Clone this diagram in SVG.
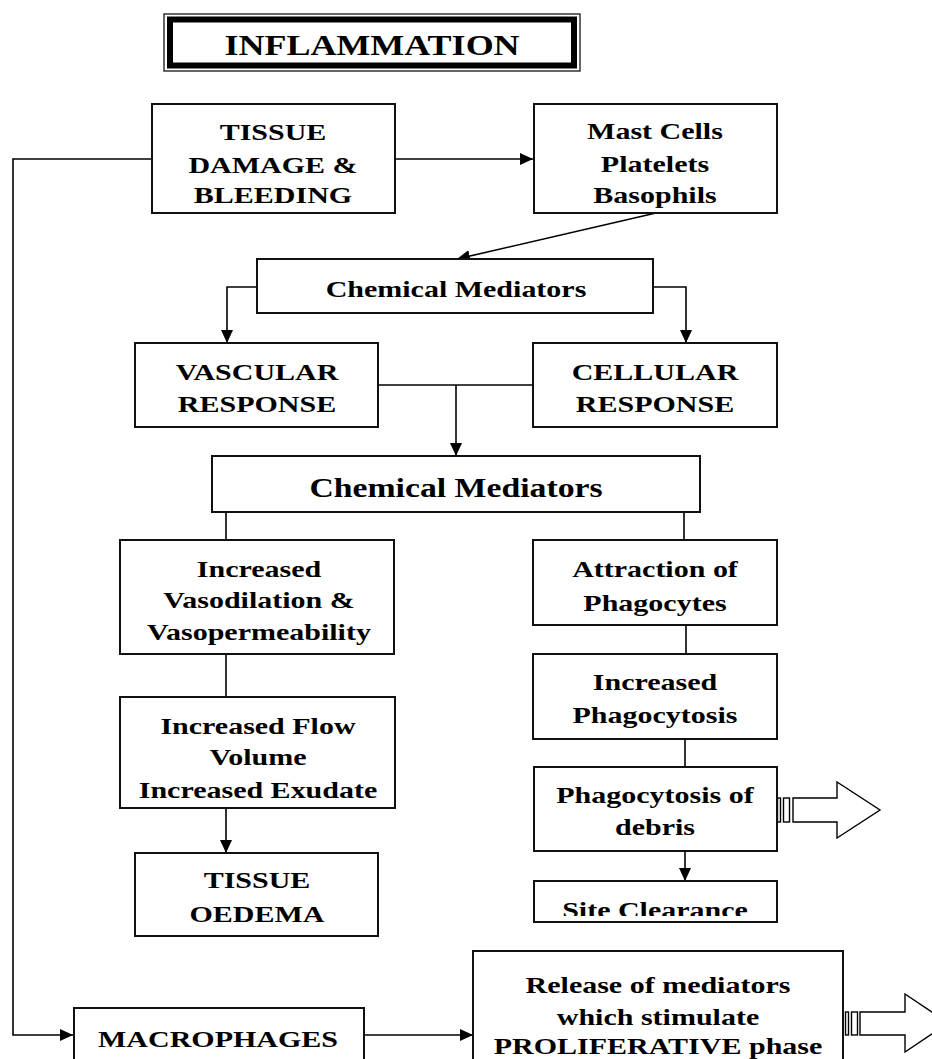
<svg xmlns="http://www.w3.org/2000/svg" width="932" height="1059" viewBox="0 0 932 1059">
<style>
.box{fill:#fff;stroke:#111;stroke-width:2}
.t{font-family:"Liberation Serif","Times New Roman",serif;font-weight:bold;font-size:24px;text-anchor:middle;fill:#000}
.big{font-size:27px}
.ttl{font-size:30px}
.ln{fill:none;stroke:#000;stroke-width:1.6}
.arw{marker-end:url(#ah)}
.blk{fill:#fff;stroke:#000;stroke-width:1.4}
</style>
<defs>
<marker id="ah" markerUnits="userSpaceOnUse" markerWidth="13" markerHeight="12" viewBox="0 0 13 12" refX="13" refY="6" orient="auto">
<path d="M0,0 L13,6 L0,12 z" fill="#000"/>
</marker>
<clipPath id="siteclip"><rect x="535" y="882" width="241" height="34"/></clipPath>
</defs>
<rect width="932" height="1059" fill="#fff"/>

<g id="connectors">
<path class="ln arw" d="M395,159 H533"/>
<path class="ln arw" d="M152,159 H13 V1035 H73"/>
<path class="ln arw" d="M656,213 L457,259"/>
<path class="ln arw" d="M257,287 H227 V343"/>
<path class="ln arw" d="M653,287 H686 V343"/>
<path class="ln" d="M378,385 H533"/>
<path class="ln arw" d="M456,385 V456"/>
<path class="ln" d="M226,512 V540"/>
<path class="ln" d="M684,512 V540"/>
<path class="ln" d="M226,654 V697"/>
<path class="ln arw" d="M226,808 V853"/>
<path class="ln" d="M686,625 V654"/>
<path class="ln" d="M685,739 V767"/>
<path class="ln arw" d="M685,851 V881"/>
<path class="ln arw" d="M364,1035 H473"/>
<g id="striped-arrow-1">
<rect class="blk" x="777.5" y="798" width="3" height="24" fill="#000"/>
<rect class="blk" x="783.5" y="798" width="6" height="24"/>
<polygon class="blk" points="793,798 837,798 837,782 880,810 837,838 837,822 793,822"/>
</g>
<g id="striped-arrow-2">
<rect class="blk" x="845.5" y="1012" width="3" height="23" fill="#000"/>
<rect class="blk" x="851.5" y="1012" width="6" height="23"/>
<polygon class="blk" points="860,1012 905,1012 905,994 948,1023 905,1052 905,1035 860,1035"/>
</g>
</g>

<g id="title">
<rect x="164" y="14" width="416" height="57" fill="#fff" stroke="#333" stroke-width="1.5"/>
<rect x="170" y="19.5" width="404" height="46" fill="#fff" stroke="#000" stroke-width="6"/>
<g transform="translate(372 0) scale(1.2 1)"><text class="t ttl" x="0" y="55">INFLAMMATION</text></g>
</g>

<g id="tissue-damage">
<rect class="box" x="152" y="104" width="243" height="109"/>
<g transform="translate(273 0) scale(1.25 1)">
<text class="t" x="0" y="140">TISSUE</text>
<text class="t" x="0" y="173">DAMAGE &amp;</text>
<text class="t" x="0" y="203">BLEEDING</text>
</g>
</g>

<g id="mast-cells">
<rect class="box" x="534" y="104" width="243" height="109"/>
<g transform="translate(655 0) scale(1.25 1)">
<text class="t" x="0" y="139">Mast Cells</text>
<text class="t" x="0" y="172">Platelets</text>
<text class="t" x="0" y="203">Basophils</text>
</g>
</g>

<g id="chemical-mediators-1">
<rect class="box" x="257" y="259" width="396" height="54"/>
<g transform="translate(456 0) scale(1.25 1)"><text class="t" x="0" y="297">Chemical Mediators</text></g>
</g>

<g id="vascular-response">
<rect class="box" x="135" y="343" width="243" height="84"/>
<g transform="translate(257 0) scale(1.25 1)">
<text class="t" x="0" y="380">VASCULAR</text>
<text class="t" x="0" y="412">RESPONSE</text>
</g>
</g>

<g id="cellular-response">
<rect class="box" x="533" y="343" width="244" height="84"/>
<g transform="translate(655 0) scale(1.25 1)">
<text class="t" x="0" y="380">CELLULAR</text>
<text class="t" x="0" y="412">RESPONSE</text>
</g>
</g>

<g id="chemical-mediators-2">
<rect class="box" x="212" y="456" width="488" height="56"/>
<g transform="translate(456 0) scale(1.25 1)"><text class="t big" x="0" y="497">Chemical Mediators</text></g>
</g>

<g id="vasodilation">
<rect class="box" x="120" y="540" width="274" height="114"/>
<g transform="translate(259 0) scale(1.25 1)">
<text class="t" x="0" y="577">Increased</text>
<text class="t" x="0" y="608">Vasodilation &amp;</text>
<text class="t" x="0" y="640">Vasopermeability</text>
</g>
</g>

<g id="increased-flow">
<rect class="box" x="120" y="697" width="275" height="111"/>
<g transform="translate(258 0) scale(1.25 1)">
<text class="t" x="0" y="734">Increased Flow</text>
<text class="t" x="0" y="765">Volume</text>
<text class="t" x="0" y="798">Increased Exudate</text>
</g>
</g>

<g id="tissue-oedema">
<rect class="box" x="135" y="853" width="243" height="83"/>
<g transform="translate(257 0) scale(1.25 1)">
<text class="t" x="0" y="888">TISSUE</text>
<text class="t" x="0" y="922">OEDEMA</text>
</g>
</g>

<g id="attraction">
<rect class="box" x="533" y="540" width="244" height="85"/>
<g transform="translate(655 0) scale(1.25 1)">
<text class="t" x="0" y="577">Attraction of</text>
<text class="t" x="0" y="611">Phagocytes</text>
</g>
</g>

<g id="increased-phagocytosis">
<rect class="box" x="533" y="654" width="244" height="85"/>
<g transform="translate(655 0) scale(1.25 1)">
<text class="t" x="0" y="690">Increased</text>
<text class="t" x="0" y="723">Phagocytosis</text>
</g>
</g>

<g id="phagocytosis-debris">
<rect class="box" x="534" y="767" width="243" height="84"/>
<g transform="translate(655 0) scale(1.25 1)">
<text class="t" x="0" y="803">Phagocytosis of</text>
<text class="t" x="0" y="835">debris</text>
</g>
</g>

<g id="site-clearance">
<rect class="box" x="534" y="881" width="243" height="41"/>
<g clip-path="url(#siteclip)">
<g transform="translate(655 0) scale(1.25 1)"><text class="t" x="0" y="918">Site Clearance</text></g>
</g>
</g>

<g id="macrophages">
<rect class="box" x="74" y="1008" width="290" height="60"/>
<g transform="translate(218 0) scale(1.25 1)"><text class="t" x="0" y="1047">MACROPHAGES</text></g>
</g>

<g id="release-mediators">
<rect class="box" x="473" y="951" width="370" height="120"/>
<g transform="translate(658 0) scale(1.25 1)">
<text class="t" x="0" y="993">Release of mediators</text>
<text class="t" x="0" y="1025">which stimulate</text>
<text class="t" x="0" y="1054">PROLIFERATIVE phase</text>
</g>
</g>
</svg>
